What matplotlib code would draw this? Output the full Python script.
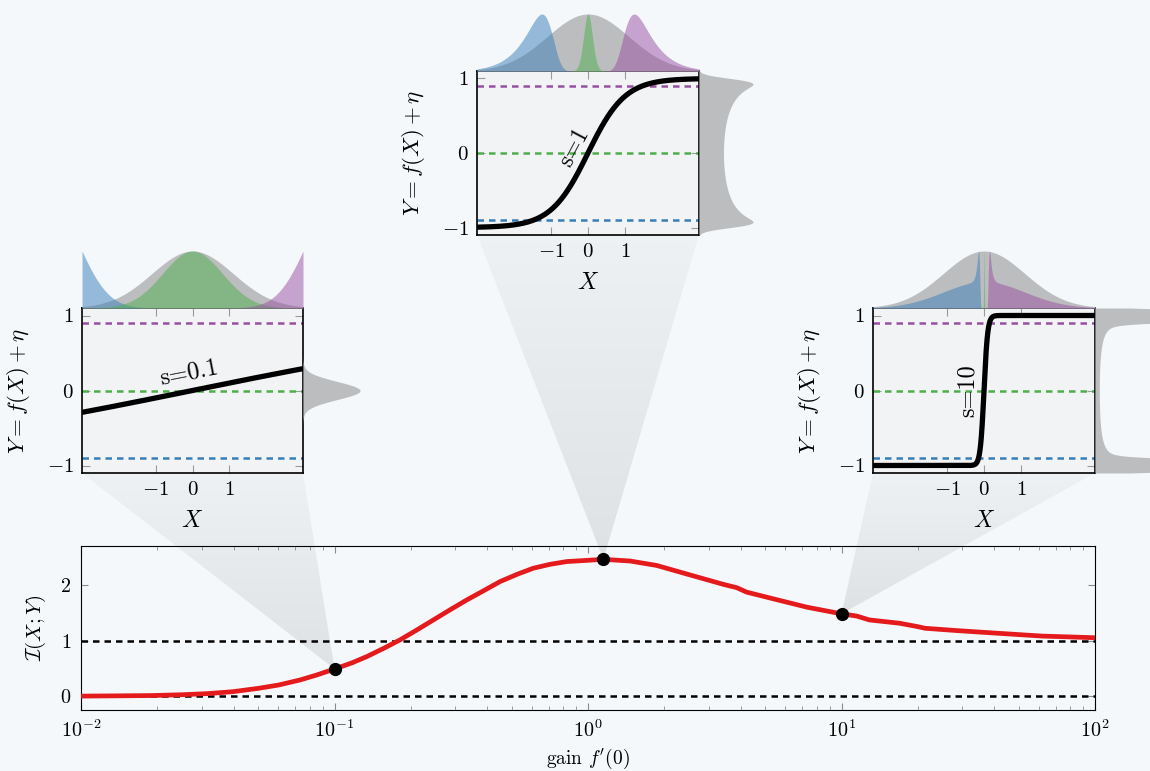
import numpy as np
import matplotlib
matplotlib.use("Agg")
import matplotlib.pyplot as plt
from matplotlib.patches import Polygon

plt.rcParams.update({
    "font.family": "serif",
    "font.serif": ["cmr10"],
    "mathtext.fontset": "cm",
    "axes.formatter.use_mathtext": True,
})

# ── data ─────────────────────────────────────────────────────────────────────
log10_gain = [-2.0, -1.85, -1.72, -1.6, -1.5, -1.4, -1.3, -1.22, -1.136, -1.07,
              -0.998, -0.93, -0.873, -0.81, -0.742, -0.675, -0.61, -0.545,
              -0.478, -0.41, -0.347, -0.28, -0.216, -0.15, -0.084, -0.01,
              0.061, 0.166, 0.271, 0.402, 0.534, 0.587, 0.626, 0.731, 0.863,
              1.0, 1.06, 1.11, 1.19, 1.23, 1.30, 1.33, 1.45, 1.55, 1.79, 2.0]
mutual_info = [0.0, 0.005, 0.01, 0.025, 0.045, 0.08, 0.14, 0.2, 0.29, 0.38,
               0.49, 0.6, 0.71, 0.85, 1.01, 1.19, 1.37, 1.55, 1.73, 1.9, 2.06,
               2.19, 2.3, 2.37, 2.42, 2.44, 2.46, 2.43, 2.35, 2.18, 2.01, 1.95,
               1.87, 1.75, 1.6, 1.48, 1.44, 1.37, 1.33, 1.31, 1.25, 1.22, 1.18,
               1.15, 1.08, 1.05]
gain = [10 ** v for v in log10_gain]
marked_gain = [0.1, 1.15, 10.0]
marked_mi = [0.49, 2.46, 1.48]

slopes = [0.1, 1.0, 10.0]                 # f(X) = tanh(s X)
slope_labels = ["s=0.1", "s=1", "s=10"]
cond_levels = [-0.9, 0.0, 0.9]            # dashed Y levels
cond_colors = ["#377eb8", "#4daf4a", "#984ea3"]
x_std = 1.1
cond_width = [0.12, 0.12, 0.08]
noise_std = 0.045

# ── layout in pixels ─────────────────────────────────────────────────────────
W, H = 1150, 771
BG = "#f5f8fb"


def px_box(x0, y0, x1, y1):
    return [x0 / W, 1 - y1 / H, (x1 - x0) / W, (y1 - y0) / H]


inset_boxes = [(82, 308, 303, 473), (477, 71, 699, 235), (873, 308, 1095, 473)]
top_h = 57
side_w = [57, 54, 55]
label_pos = [(-0.1, 0.24, 11), (-0.38, 0.08, 62), (-0.45, 0.0, 90)]

fig = plt.figure(figsize=(W / 100, H / 100), dpi=100, facecolor=BG)

# overlay for the cones, pixel coordinates
ax_cone = fig.add_axes([0, 0, 1, 1], zorder=0)
ax_cone.set_axis_off()

# ── main axes ────────────────────────────────────────────────────────────────
ax = fig.add_axes(px_box(81, 546, 1095, 710), zorder=1)
ax.set_facecolor("none")
for lvl in [0, 1]:
    ax.axhline(lvl, color="k", lw=1.8, ls=(0, (2.6, 2.0)), zorder=2)
ax.plot(gain, mutual_info, color="#e41a1c", lw=3.4, zorder=3,
        solid_joinstyle="round")
ax.plot(marked_gain, marked_mi, "o", color="k", ms=8.5, zorder=4)
ax.set_xscale("log")
ax.set_xlim(1e-2, 1e2)
ax.set_ylim(-0.25, 2.7)
ax.set_yticks([0, 1, 2])
ax.tick_params(which="both", direction="in", top=True, right=True,
               color="#8a8a8a", labelsize=14.5)
ax.tick_params(which="major", length=5, pad=7)
ax.tick_params(which="minor", length=3)
ax.set_xlabel(r"gain $f'(0)$", fontsize=14)
ax.xaxis.set_label_coords(0.5, -0.225)
ax.set_ylabel(r"$\mathcal{I}(X;Y)$", fontsize=15)
ax.yaxis.set_label_coords(-0.033, 0.5)

# ── insets ───────────────────────────────────────────────────────────────────
xs = np.linspace(-3, 3, 3001)
xg = np.linspace(-6, 6, 6001)
ys = np.linspace(-1.1, 1.1, 700)
p_x = np.exp(-xs ** 2 / (2 * x_std ** 2))
p_xg = np.exp(-xg ** 2 / (2 * x_std ** 2))

insets = []
for k, s in enumerate(slopes):
    x0, y0, x1, y1 = inset_boxes[k]
    axi = fig.add_axes(px_box(x0, y0, x1, y1), zorder=2)
    axi.set_facecolor("#f2f3f5")
    for lvl, c in zip(cond_levels, cond_colors):
        axi.axhline(lvl, color=c, lw=1.8, ls=(0, (2.6, 2.0)))
    axi.plot(xs, np.tanh(s * xs), color="k", lw=3.8, solid_capstyle="butt")
    axi.set_xlim(-3, 3)
    axi.set_ylim(-1.1, 1.1)
    axi.set_xticks([-1, 0, 1])
    axi.set_yticks([-1, 0, 1])
    axi.tick_params(direction="in", top=True, right=True, color="#9a9a9a",
                    length=6, labelsize=15, pad=6)
    for sp in axi.spines.values():
        sp.set_linewidth(1.2)
    axi.set_xlabel(r"$X$", fontsize=17)
    axi.xaxis.set_label_coords(0.5, -0.225)
    axi.set_ylabel(r"$Y = f(X) + \eta$", fontsize=16.5)
    axi.yaxis.set_label_coords(-0.225, 0.5)
    lx, ly, rot = label_pos[k]
    axi.text(lx, ly, slope_labels[k], rotation=rot, fontsize=17.5,
             ha="center", va="center")

    # top marginal: p(X) and p(X | Y = level)
    axt = fig.add_axes(px_box(x0, y0 - top_h, x1, y0), zorder=2)
    axt.set_axis_off()
    axt.fill_between(xs, 0, p_x / p_x.max(), color="#bcbdbf", lw=0)
    for lvl, c in zip(cond_levels, cond_colors):
        d = p_x * np.exp(-(lvl - np.tanh(s * xs)) ** 2 / (2 * cond_width[k] ** 2))
        axt.fill_between(xs, 0, d / d.max(), color=c, alpha=0.5, lw=0)
    axt.set_xlim(-3, 3)
    axt.set_ylim(0, 1)

    # right marginal: p(Y)
    p_y = (p_xg[None, :] * np.exp(-(ys[:, None] - np.tanh(s * xg)[None, :]) ** 2
                                  / (2 * noise_std ** 2))).sum(axis=1)
    axr = fig.add_axes(px_box(x1, y0, x1 + side_w[k], y1), zorder=2)
    axr.set_axis_off()
    axr.fill_betweenx(ys, 0, p_y, color="#bcbdbf", lw=0)
    axr.set_ylim(-1.1, 1.1)
    if s < 5:
        axr.set_xlim(0, p_y.max())
    else:
        axr.set_xlim(0, p_y[len(ys) // 2] * 55 / 4.3)
    insets.append(axi)

# ── cones from the marked points to the insets ───────────────────────────────
for k in range(3):
    dot = ax.transData.transform((marked_gain[k], marked_mi[k]))
    bl = insets[k].transAxes.transform((0, 0))
    br = insets[k].transAxes.transform((1, 0))
    poly = Polygon([dot, bl, br], closed=True, facecolor="none", edgecolor="none")
    ax_cone.add_patch(poly)
    grad = np.zeros((64, 1, 4))
    grad[:, 0, 3] = np.linspace(0.09, 0.03, 64)
    xmin = min(dot[0], bl[0], br[0])
    xmax = max(dot[0], bl[0], br[0])
    im = ax_cone.imshow(grad, extent=[xmin, xmax, dot[1], bl[1]],
                        origin="lower", aspect="auto", interpolation="bilinear")
    im.set_clip_path(poly)
ax_cone.set_xlim(0, W)
ax_cone.set_ylim(0, H)

fig.savefig("out.png", dpi=100, facecolor=BG)
